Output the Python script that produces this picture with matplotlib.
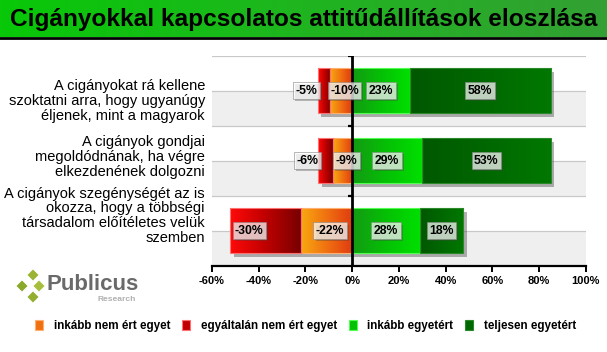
import numpy as np
import matplotlib
matplotlib.use('Agg')
import matplotlib.pyplot as plt
import matplotlib.patheffects as pe
from matplotlib.colors import LinearSegmentedColormap
from matplotlib.patches import Patch, Polygon

plt.rcParams['font.family'] = ['Liberation Sans', 'DejaVu Sans']

# --- data ---
title = 'Cigányokkal kapcsolatos attitűdállítások eloszlása'
categories = [
    'A cigányokat rá kellene\nszoktatni arra, hogy ugyanúgy\néljenek, mint a magyarok',
    'A cigányok gondjai\nmegoldódnának, ha végre\nelkezdenének dolgozni',
    'A cigányok szegénységét az is\nokozza, hogy a többségi\ntársadalom előítéletes velük\nszemben',
]
series_names = ['inkább nem ért egyet', 'egyáltalán nem ért egyet',
                'inkább egyetért', 'teljesen egyetért']
# bar lengths as drawn (percent)
rather_disagree = [9.4, 8.3, 21.9]
fully_disagree = [5.4, 6.3, 30.3]
rather_agree = [24.6, 29.9, 28.9]
fully_agree = [60.4, 55.1, 18.6]
# printed labels
lbl_rather_disagree = ['-10%', '-9%', '-22%']
lbl_fully_disagree = ['-5%', '-6%', '-30%']
lbl_rather_agree = ['23%', '29%', '28%']
lbl_fully_agree = ['58%', '53%', '18%']
xticks = [-60, -40, -20, 0, 20, 40, 60, 80, 100]

W, H = 607, 352
fig = plt.figure(figsize=(W / 100, H / 100), dpi=100)
fig.patch.set_facecolor('white')

# --- title bar ---
tax = fig.add_axes([0, 1 - 37 / H, 1, 37 / H])
grad = np.linspace(0, 1, 256)[None, :]
tax.imshow(grad, cmap=LinearSegmentedColormap.from_list('t', ['#08c808', '#1fb51f', '#33a033']),
           aspect='auto', extent=[0, 1, 0, 1])
tax.set_xlim(0, 1)
tax.set_ylim(0, 1)
tax.axis('off')
tax.text(0.5, 0.47, title, ha='center', va='center', fontsize=17.6,
         fontweight='bold', color='black')
fig.add_artist(plt.Line2D([0, 1], [1 - 38.3 / H] * 2, color='black', lw=2))

# --- main axes ---
x0, x1 = 212, 585.7
ytop, ybot = 55.5, 266
ax = fig.add_axes([x0 / W, 1 - ybot / H, (x1 - x0) / W, (ybot - ytop) / H])

n = len(categories)
ypos = np.arange(n)
bh = 0.64

for i in range(n):
    ax.axhspan(i, i + 0.5, color='#efefef', zorder=0, lw=0)
for y in np.arange(-0.5, n, 0.5):
    ax.axhline(y, color='#c8c8c8', lw=0.9, zorder=0.5)

cmaps = [
    LinearSegmentedColormap.from_list('o', ['#f8a810', '#f07010', '#e03a10']),
    LinearSegmentedColormap.from_list('r', ['#ff0a0a', '#c00000', '#780000']),
    LinearSegmentedColormap.from_list('lg', ['#139a13', '#05c005', '#00e000']),
    LinearSegmentedColormap.from_list('dg', ['#005800', '#006800', '#007800']),
]
edges = ['#ffb070', '#ff7070', '#50ff50', '#2a8a2a']
mids = [c(0.5) for c in cmaps]

rd = np.array(rather_disagree)
fd = np.array(fully_disagree)
ra = np.array(rather_agree)
fa = np.array(fully_agree)
lefts = [-rd, -(rd + fd), np.zeros(n), ra]
widths = [rd, fd, ra, fa]

shadow = [pe.SimplePatchShadow(offset=(2.5, -2.5), shadow_rgbFace='#555555', alpha=0.45), pe.Normal()]
for k in range(4):
    bars = ax.barh(ypos, widths[k], left=lefts[k], height=bh, color=mids[k],
                   lw=0, zorder=2)
    for b in bars:
        b.set_path_effects(shadow)
        bx, by = b.get_x(), b.get_y()
        im = ax.imshow(grad, cmap=cmaps[k], aspect='auto', zorder=2.2,
                       extent=[bx, bx + b.get_width(), by + b.get_height(), by])
        im.set_clip_path(b)
    ax.barh(ypos, widths[k], left=lefts[k], height=bh, fill=False,
            edgecolor=edges[k], lw=0.8, zorder=2.5)

# value labels
label_x = [
    [-3.3, -2.5, -9.4],       # rather disagree
    [-19.6, -19.0, -44.0],    # fully disagree
    list(ra / 2),
    list(ra + fa / 2),
]
label_txt = [lbl_rather_disagree, lbl_fully_disagree, lbl_rather_agree, lbl_fully_agree]
for k in range(4):
    for i in range(n):
        t = ax.text(label_x[k][i], i, label_txt[k][i], ha='center', va='center',
                    fontsize=8.8, fontweight='bold', color='black', zorder=6,
                    bbox=dict(boxstyle='square,pad=0.2', fc='white', ec='#8a8a8a',
                              lw=0.6, alpha=0.72))
        t.get_bbox_patch().set_path_effects(
            [pe.SimplePatchShadow(offset=(1.5, -1.5), shadow_rgbFace='#444444', alpha=0.35), pe.Normal()])

ax.set_xlim(-60, 100)
ax.set_ylim(n - 0.5, -0.5)

# zero line with small category ticks
ax.axvline(0, color='black', lw=2, zorder=5)
ax.hlines(np.arange(-0.5, n - 0.5, 1.0), -1.8, 0, color='black', lw=1.6, zorder=5)

for s in ['top', 'right', 'left']:
    ax.spines[s].set_visible(False)
ax.spines['bottom'].set_color('black')
ax.spines['bottom'].set_linewidth(1.6)
ax.spines['bottom'].set_zorder(6)
ax.set_yticks([])
ax.set_xticks(xticks)
ax.set_xticklabels([f'{v}%' for v in xticks], fontsize=8, fontweight='bold')
ax.tick_params(axis='x', direction='out', length=4, width=1.4, pad=3)

# category labels
cat_y = [0.148, 0.942, 1.786]
for i, c in enumerate(categories):
    ax.text(-63, cat_y[i], c, ha='right', va='center', fontsize=10.5,
            linespacing=1.08, color='black')

# legend
handles = [Patch(facecolor=mids[k], edgecolor=edges[k], lw=0.8) for k in range(4)]
fig.legend(handles, series_names, loc='center', bbox_to_anchor=(305.5 / W, 1 - 326 / H),
           ncol=4, frameon=False, handlelength=0.7, handleheight=0.9, handletextpad=0.9,
           columnspacing=1.0, prop={'size': 8.4, 'weight': 'bold'})

# logo
lax = fig.add_axes([0, 1 - 312 / H, 150 / W, 50 / H])
lax.set_xlim(0, 150)
lax.set_ylim(312, 262)
lax.axis('off')
for cx, cy, col in [(33, 275, '#9cb436'), (22, 286, '#8aa82a'), (39, 286, '#a6be3c'), (33, 297, '#94ae30')]:
    d = 6.5
    lax.add_patch(Polygon([(cx, cy - d), (cx + d, cy), (cx, cy + d), (cx - d, cy)],
                          closed=True, fc=col, ec='white', lw=1.0))
lax.text(46, 285, 'Publicus', fontsize=16, fontweight='bold', color='#6a6a6a',
         ha='left', va='center')
lax.text(136, 300, 'Research', fontsize=6, fontweight='bold', color='#b0b0b0',
         ha='right', va='center')

fig.savefig('out.png', dpi=100, facecolor='white')
